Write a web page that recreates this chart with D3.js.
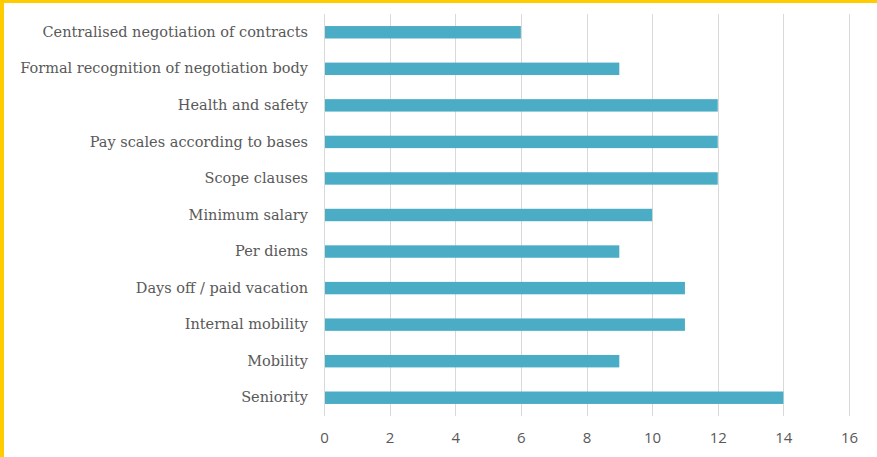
<!DOCTYPE html>
<html>
<head>
<meta charset="utf-8">
<script src="https://cdn.jsdelivr.net/npm/d3@7"></script>
<style>
  body { margin: 0; background: #fff; }
  #frame { position: absolute; left: 0; top: 0; width: 877px; height: 457px; background: #fff;
           border-left: 4px solid #FFCC00; border-top: 3px solid #FFCC00; box-sizing: border-box; }
  svg { position: absolute; left: 0; top: 0; }
</style>
</head>
<body>
<div id="frame"></div>
<div id="chart"></div>
<script>
const categories = ['Centralised negotiation of contracts', 'Formal recognition of negotiation body',
  'Health and safety', 'Pay scales according to bases', 'Scope clauses', 'Minimum salary',
  'Per diems', 'Days off / paid vacation', 'Internal mobility', 'Mobility', 'Seniority'];
const values = [6, 9, 12, 12, 12, 10, 9, 11, 11, 9, 14];
const xTicks = [0, 2, 4, 6, 8, 10, 12, 14, 16];

const w = 877;
const h = 457;

const xScale = d3.scaleLinear()
                 .domain([0, 16])
                 .range([324, 849]);

const yScale = d3.scaleBand()
                 .domain(categories)
                 .range([14, 416])
                 .paddingInner(0.66)
                 .paddingOuter(0.33);

const svg = d3.select('#chart')
              .append('svg')
              .attr('width', w)
              .attr('height', h);

//Gridlines
svg.append('g')
   .selectAll('line')
   .data(xTicks)
   .enter()
   .append('line')
   .attr('x1', d => Math.round(xScale(d)) + 0.5)
   .attr('x2', d => Math.round(xScale(d)) + 0.5)
   .attr('y1', 14)
   .attr('y2', 416)
   .attr('stroke', '#d9d9d9')
   .attr('stroke-width', 1);

//Bars
svg.selectAll('rect.bar')
   .data(values)
   .enter()
   .append('rect')
   .attr('class', 'bar')
   .attr('x', xScale(0) + 1)
   .attr('y', (d, i) => yScale(categories[i]))
   .attr('width', d => xScale(d) - xScale(0) - 1)
   .attr('height', yScale.bandwidth())
   .attr('fill', '#4BACC6');

//Axes
const xAxis = d3.axisBottom(xScale).tickValues(xTicks).tickSize(0).tickPadding(16);
const gx = svg.append('g')
   .attr('transform', 'translate(0, 416)')
   .call(xAxis);
gx.select('.domain').remove();
gx.selectAll('text')
  .attr('fill', '#595959')
  .style('font-family', 'Open Sans, sans-serif')
  .style('font-size', '15px');

const yAxis = d3.axisLeft(yScale).tickSize(0).tickPadding(16);
const gy = svg.append('g')
   .attr('transform', 'translate(324, 0)')
   .call(yAxis);
gy.select('.domain').remove();
gy.selectAll('text')
  .attr('fill', '#595959')
  .style('font-family', 'DejaVu Serif, serif')
  .style('font-size', '14.5px');
</script>
</body>
</html>
